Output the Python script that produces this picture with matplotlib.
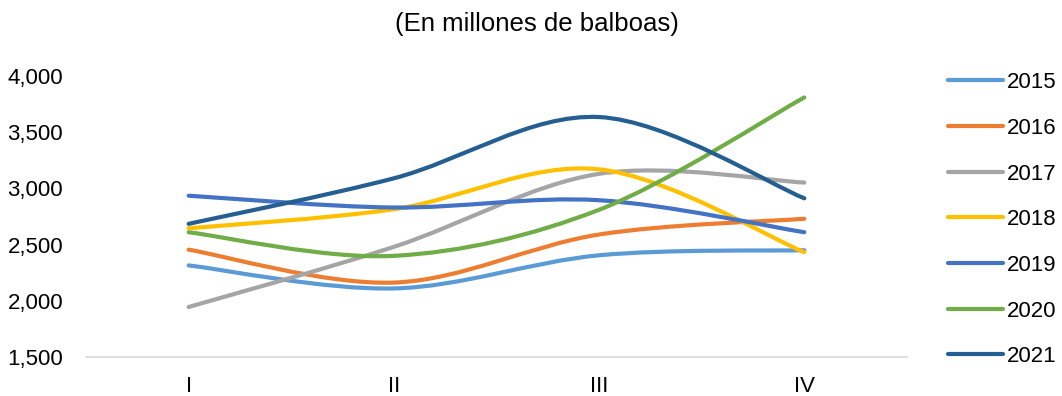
import numpy as np
import matplotlib
matplotlib.use("Agg")
import matplotlib.pyplot as plt
from matplotlib.path import Path
from matplotlib.patches import PathPatch
from matplotlib.lines import Line2D
from matplotlib.ticker import FuncFormatter

plt.rcParams['font.family'] = ['Liberation Sans', 'DejaVu Sans']

# Quarterly figures, millions of balboas
quarters = ['I', 'II', 'III', 'IV']
years = ['2015', '2016', '2017', '2018', '2019', '2020', '2021']
v2015 = [2315, 2110, 2405, 2450]
v2016 = [2455, 2162, 2590, 2730]
v2017 = [1945, 2480, 3130, 3052]
v2018 = [2645, 2815, 3170, 2432]
v2019 = [2935, 2830, 2895, 2610]
v2020 = [2610, 2400, 2810, 3810]
v2021 = [2685, 3090, 3635, 2912]
series = [v2015, v2016, v2017, v2018, v2019, v2020, v2021]
colors = ['#5B9BD5', '#ED7D31', '#A5A5A5', '#FFC000', '#4472C4', '#70AD47', '#255E91']


def smooth_path(xs, ys):
    # cubic Bezier segments through every point (Catmull-Rom style tangents)
    pts = np.column_stack([xs, ys]).astype(float)
    n = len(pts)
    verts = [pts[0]]
    codes = [Path.MOVETO]
    for i in range(n - 1):
        p0 = pts[i - 1] if i > 0 else pts[i]
        p1 = pts[i]
        p2 = pts[i + 1]
        p3 = pts[i + 2] if i + 2 < n else pts[i + 1]
        c1 = p1 + (p2 - p0) / 6.0
        c2 = p2 - (p3 - p1) / 6.0
        verts += [c1, c2, p2]
        codes += [Path.CURVE4] * 3
    return Path(verts, codes)


fig = plt.figure(figsize=(10.62, 3.96), dpi=100)
ax = fig.add_axes([0.081, 0.0985, 0.773, 0.7095])

x = np.arange(len(quarters))
for vals, col in zip(series, colors):
    patch = PathPatch(smooth_path(x, vals), facecolor='none', edgecolor=col,
                      lw=3, capstyle='round', joinstyle='round')
    ax.add_patch(patch)

ax.set_xlim(-0.5, 3.5)
ax.set_ylim(1500, 4000)
ax.set_yticks([1500, 2000, 2500, 3000, 3500, 4000])
ax.yaxis.set_major_formatter(FuncFormatter(lambda v, _: f'{v:,.0f}'))
ax.set_xticks(x)
ax.set_xticklabels(quarters)
ax.tick_params(axis='both', length=0, labelsize=16, colors='#000000')
ax.tick_params(axis='y', pad=16.5)
ax.tick_params(axis='x', pad=14)

for side in ['top', 'right', 'left']:
    ax.spines[side].set_visible(False)
ax.spines['bottom'].set_color('#D9D9D9')
ax.spines['bottom'].set_linewidth(1.2)

fig.text(0.506, 0.94, '(En millones de balboas)', ha='center', va='center',
         fontsize=18.5)

handles = [Line2D([0], [0], color=c, lw=3, solid_capstyle='round') for c in colors]
fig.legend(handles, years, loc='upper left', bbox_to_anchor=(0.884, 0.84),
           frameon=False, fontsize=16, handlelength=2.48, handletextpad=0.18,
           labelspacing=1.11, borderaxespad=0)

fig.savefig('out.png', dpi=100)
